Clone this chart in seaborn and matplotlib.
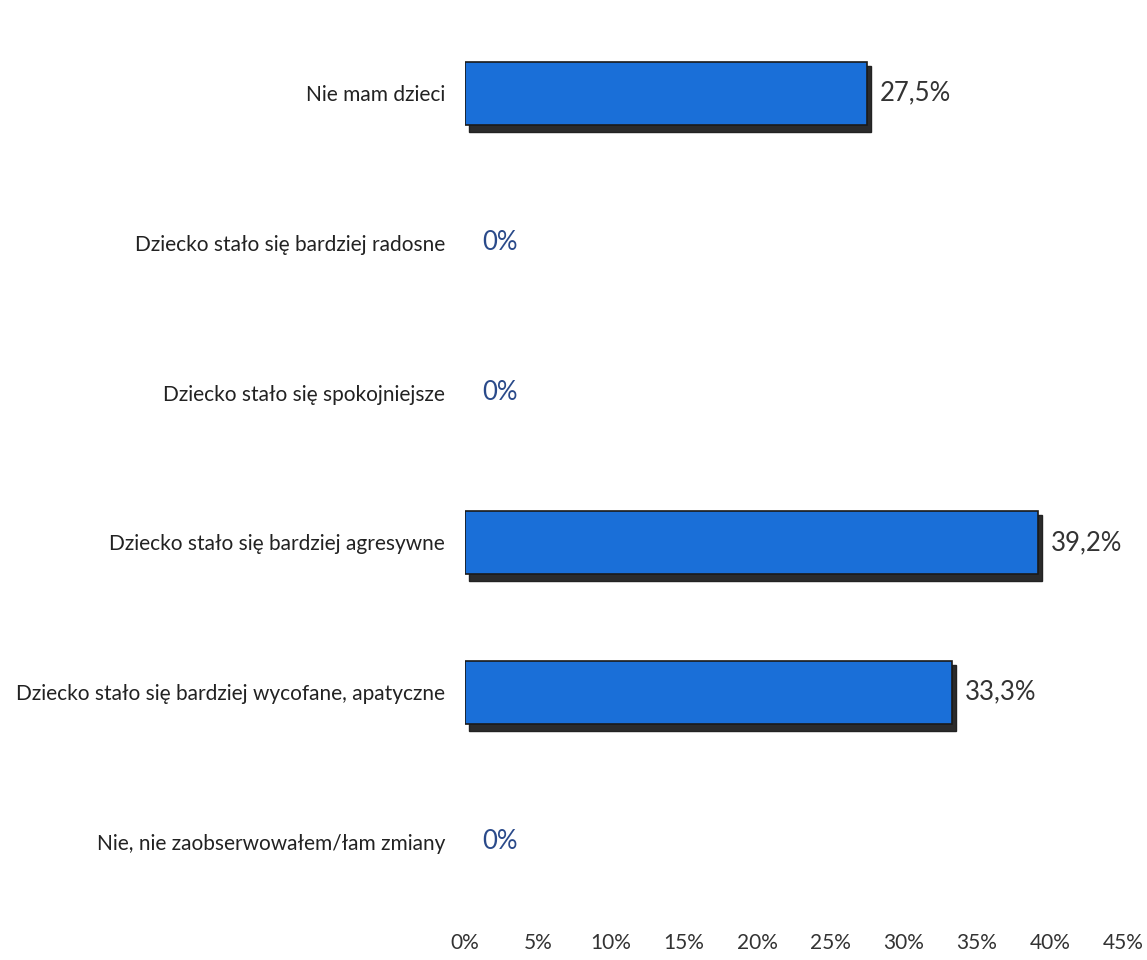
import matplotlib
matplotlib.use("Agg")
import matplotlib.pyplot as plt
import matplotlib.transforms as mtransforms
import pandas as pd
import seaborn as sns

categories = [
    "Nie mam dzieci",
    "Dziecko stało się bardziej radosne",
    "Dziecko stało się spokojniejsze",
    "Dziecko stało się bardziej agresywne",
    "Dziecko stało się bardziej wycofane, apatyczne",
    "Nie, nie zaobserwowałem/łam zmiany",
]
values = [27.5, 0, 0, 39.2, 33.3, 0]
value_labels = ["27,5%", "0%", "0%", "39,2%", "33,3%", "0%"]
ticks = [0, 5, 10, 15, 20, 25, 30, 35, 40, 45]

df = pd.DataFrame({"kategoria": categories, "procent": values})

sns.set_style("white")
plt.rcParams["font.family"] = ["Lato", "DejaVu Sans"]

fig = plt.figure(figsize=(11.47, 9.6), dpi=100)
ax = fig.add_axes([0.405, 0.045, 0.574, 0.936])

# cień słupków (efekt 3D)
sns.barplot(data=df, x="procent", y="kategoria", color="#2b2b2b", width=0.44,
            edgecolor="#222222", linewidth=1, ax=ax, orient="h")
shadow = mtransforms.offset_copy(ax.transData, fig=fig, x=4, y=-6, units="dots")
for p in ax.patches:
    p.set_transform(shadow)

sns.barplot(data=df, x="procent", y="kategoria", color="#1a6fd8", width=0.42,
            edgecolor="#1a1a1a", linewidth=1.2, ax=ax, orient="h", saturation=1)

# słupki o wartości 0 nie mają obramowania
for p in ax.patches:
    if p.get_width() == 0:
        p.set_visible(False)

for i, (v, lab) in enumerate(zip(values, value_labels)):
    ax.text(v + 0.9 if v > 0 else 1.2, i, lab, va="center", ha="left",
            fontsize=18.5, color="#333333" if v > 0 else "#2a4a8a")

ax.set_xlim(0, 45)
ax.set_xticks(ticks)
ax.set_xticklabels([f"{t}%" for t in ticks], fontsize=15, color="#333333")
ax.tick_params(axis="x", length=0, pad=12)
ax.tick_params(axis="y", length=0, pad=14, labelsize=15, labelcolor="#222222")
ax.set_xlabel("")
ax.set_ylabel("")
for s in ax.spines.values():
    s.set_visible(False)

fig.savefig("out.png", dpi=100, facecolor="white")
